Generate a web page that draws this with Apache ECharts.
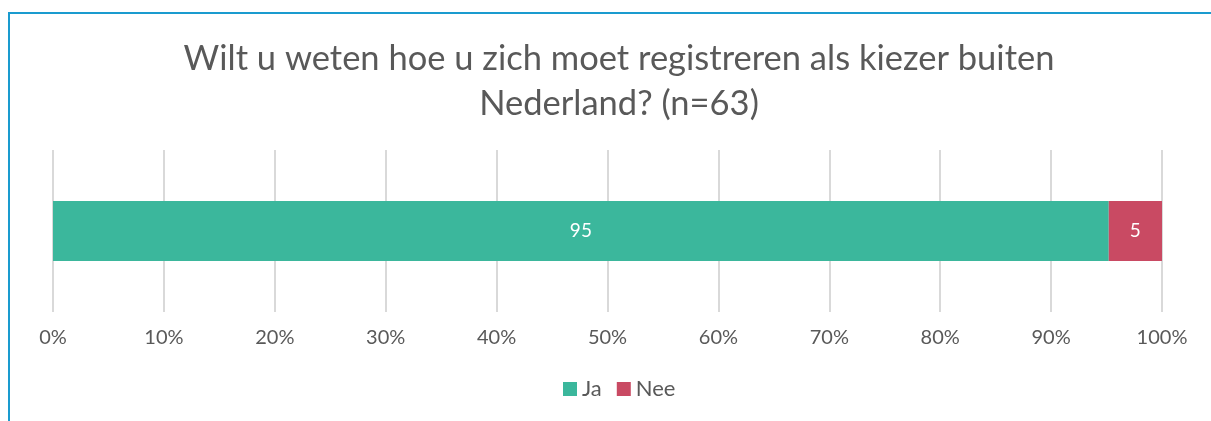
<!DOCTYPE html>
<html>
<head>
<meta charset="utf-8">
<script src="https://cdn.jsdelivr.net/npm/echarts@6/dist/echarts.min.js"></script>
<style>
    html, body { margin: 0; padding: 0; background: #fff; }
    #wrap { position: relative; width: 1211px; height: 421px; overflow: hidden; }
    #frame { position: absolute; left: 8px; top: 12px; width: 1300px; height: 500px;
             border-left: 2px solid #1a9bcf; border-top: 2px solid #1a9bcf; }
    #chart { position: absolute; left: 0; top: 0; width: 1211px; height: 421px; }
</style>
</head>
<body>
<div id="wrap">
    <div id="chart"></div>
    <div id="frame"></div>
</div>
<script>
    // data
    var categories = ['Registreren']
    var seriesNames = ['Ja', 'Nee']
    var jaValues = [95.2]
    var neeValues = [4.8]
    var colors = ['#3bb79c', '#c94a63']

    var chart = echarts.init(document.getElementById('chart'))
    var font = 'Lato, "Open Sans", sans-serif'

    function barSeries (name, data, color) {
        return {
            name: name,
            type: 'bar',
            stack: 'total',
            barWidth: 60,
            data: data,
            itemStyle: { color: color },
            label: {
                show: true,
                position: 'inside',
                color: '#fff',
                fontSize: 19,
                fontFamily: font,
                formatter: function (p) { return Math.round(p.value) }
            }
        }
    }

    chart.setOption({
        backgroundColor: '#fff',
        animation: false,
        title: {
            text: 'Wilt u weten hoe u zich moet registreren als kiezer buiten\nNederland? (n=63)',
            left: 614,
            top: 31,
            textAlign: 'center',
            textStyle: {
                color: '#595959',
                fontSize: 34.5,
                fontWeight: 'normal',
                fontFamily: font,
                lineHeight: 45
            }
        },
        legend: {
            data: seriesNames,
            top: 373,
            left: 558,
            icon: 'rect',
            itemWidth: 14,
            itemHeight: 14,
            itemGap: 15,
            textStyle: { color: '#595959', fontSize: 22, fontFamily: font }
        },
        grid: {
            left: 53,
            right: 49,
            top: 150,
            bottom: 109
        },
        xAxis: {
            type: 'value',
            min: 0,
            max: 100,
            interval: 10,
            axisLine: { show: false },
            axisTick: { show: false },
            splitLine: { show: true, lineStyle: { color: '#d9d9d9', width: 2 } },
            axisLabel: {
                formatter: '{value}%',
                color: '#595959',
                fontSize: 20,
                fontFamily: font,
                margin: 16
            }
        },
        yAxis: {
            type: 'category',
            data: categories,
            axisLine: { show: false },
            axisTick: { show: false },
            axisLabel: { show: false }
        },
        series: [
            barSeries(seriesNames[0], jaValues, colors[0]),
            barSeries(seriesNames[1], neeValues, colors[1])
        ]
    })
</script>
</body>
</html>
